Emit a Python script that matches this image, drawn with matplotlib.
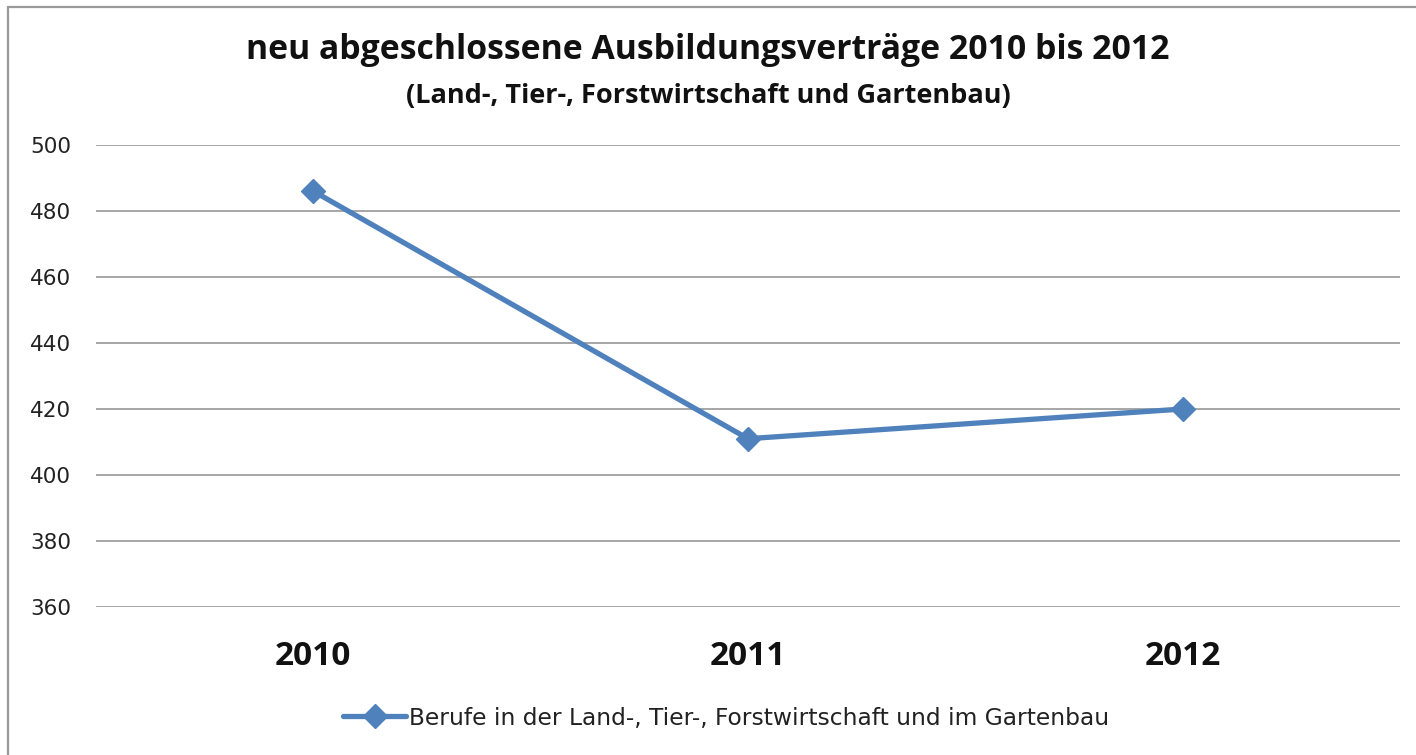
import matplotlib.pyplot as plt
from matplotlib.patches import Rectangle

# Data
jahre = ['2010', '2011', '2012']
vertraege = [486, 411, 420]
y_ticks = [360, 380, 400, 420, 440, 460, 480, 500]

titel = 'neu abgeschlossene Ausbildungsverträge 2010 bis 2012'
untertitel = '(Land-, Tier-, Forstwirtschaft und Gartenbau)'
serie = 'Berufe in der Land-, Tier-, Forstwirtschaft und im Gartenbau'

linienfarbe = '#4F81BD'
gitterfarbe = '#A6A6A6'
plt.rcParams['font.family'] = ['Open Sans', 'DejaVu Sans']

W, H = 1416, 755
fig = plt.figure(figsize=(W / 100, H / 100), dpi=100)
ax = fig.add_axes([96 / W, 1 - 607 / H, (1400 - 96) / W, (607 - 145) / H])

x = range(len(jahre))
ax.plot(x, vertraege, color=linienfarbe, linewidth=3.8, marker='D',
        markersize=12, label=serie, solid_capstyle='round')

ax.set_xlim(-0.5, len(jahre) - 0.5)
ax.set_ylim(360, 500)
ax.set_yticks(y_ticks)
ax.set_yticklabels([str(v) for v in y_ticks], fontsize=15.5, color='#222222',
                   family='DejaVu Sans')
ax.set_xticks(list(x))
ax.set_xticklabels(jahre, fontsize=24, fontweight='bold', color='#111111')
ax.tick_params(axis='y', length=0, pad=18)
ax.tick_params(axis='x', length=0, pad=24)
ax.yaxis.grid(True, color=gitterfarbe, linewidth=1.4)
ax.set_axisbelow(True)
for s in ax.spines.values():
    s.set_visible(False)

fig.text(0.5, 1 - 50 / H, titel, ha='center', va='center',
         fontsize=24.3, fontweight='bold', color='#111111')
fig.text(0.5, 1 - 96 / H, untertitel, ha='center', va='center',
         fontsize=19.5, fontweight='bold', color='#111111')

leg = fig.legend(loc='center', bbox_to_anchor=(726 / W, 1 - 718 / H), frameon=False,
                 prop={'family': 'DejaVu Sans', 'size': 16.8},
                 handlelength=2.7, handletextpad=0.1)
for t in leg.get_texts():
    t.set_color('#222222')

# grey outline of the chart box (cut off at right and bottom)
fig.patches.append(Rectangle((8 / W, -0.1), 1.2, 1 - 7 / H + 0.1,
                             transform=fig.transFigure, fill=False,
                             edgecolor='#9A9A9A', linewidth=1.6))

fig.savefig('out.png', dpi=100)
